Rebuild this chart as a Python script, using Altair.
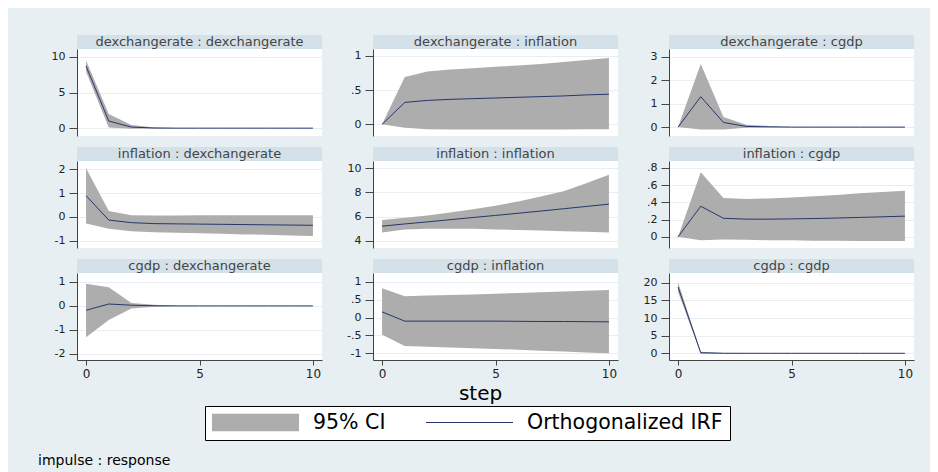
import altair as alt
import pandas as pd

steps = list(range(11))

titles = [
    "dexchangerate : dexchangerate", "dexchangerate : inflation", "dexchangerate : cgdp",
    "inflation : dexchangerate", "inflation : inflation", "inflation : cgdp",
    "cgdp : dexchangerate", "cgdp : inflation", "cgdp : cgdp",
]

# impulse dexchangerate
irf_dd = [8.7, 1.0, 0.15, 0.02, 0.0, 0.0, 0.0, 0.0, 0.0, 0.0, 0.0]
lo_dd = [7.9, 0.1, -0.1, -0.05, -0.01, 0.0, 0.0, 0.0, 0.0, 0.0, 0.0]
hi_dd = [9.5, 2.0, 0.45, 0.1, 0.02, 0.0, 0.0, 0.0, 0.0, 0.0, 0.0]

irf_di = [0.0, 0.32, 0.35, 0.365, 0.375, 0.385, 0.395, 0.405, 0.415, 0.43, 0.44]
lo_di = [0.0, -0.05, -0.07, -0.075, -0.075, -0.075, -0.075, -0.075, -0.075, -0.07, -0.07]
hi_di = [0.0, 0.69, 0.77, 0.80, 0.82, 0.84, 0.86, 0.88, 0.91, 0.94, 0.97]

irf_dc = [0.0, 1.3, 0.2, 0.03, 0.01, 0.0, 0.0, 0.0, 0.0, 0.0, 0.0]
lo_dc = [0.0, -0.1, -0.1, -0.03, -0.01, 0.0, 0.0, 0.0, 0.0, 0.0, 0.0]
hi_dc = [0.0, 2.7, 0.43, 0.1, 0.05, 0.01, 0.0, 0.0, 0.0, 0.0, 0.0]

# impulse inflation
irf_id = [0.89, -0.13, -0.24, -0.28, -0.29, -0.30, -0.31, -0.32, -0.33, -0.34, -0.35]
lo_id = [-0.28, -0.49, -0.6, -0.64, -0.66, -0.68, -0.7, -0.73, -0.75, -0.78, -0.8]
hi_id = [2.04, 0.25, 0.07, 0.06, 0.06, 0.07, 0.07, 0.07, 0.07, 0.07, 0.07]

irf_ii = [5.22, 5.4, 5.57, 5.75, 5.93, 6.1, 6.28, 6.46, 6.65, 6.84, 7.03]
lo_ii = [4.7, 4.95, 5.0, 5.0, 5.0, 4.95, 4.9, 4.85, 4.8, 4.75, 4.7]
hi_ii = [5.72, 5.9, 6.1, 6.35, 6.6, 6.9, 7.25, 7.65, 8.1, 8.75, 9.45]

irf_ic = [0.0, 0.355, 0.215, 0.205, 0.205, 0.208, 0.212, 0.218, 0.225, 0.232, 0.24]
lo_ic = [0.0, -0.04, -0.03, -0.035, -0.04, -0.04, -0.045, -0.045, -0.05, -0.05, -0.05]
hi_ic = [0.0, 0.75, 0.45, 0.44, 0.445, 0.455, 0.47, 0.485, 0.505, 0.52, 0.535]

# impulse cgdp
irf_cd = [-0.18, 0.08, 0.03, 0.005, 0.0, 0.0, 0.0, 0.0, 0.0, 0.0, 0.0]
lo_cd = [-1.3, -0.59, -0.11, -0.03, -0.005, 0.0, 0.0, 0.0, 0.0, 0.0, 0.0]
hi_cd = [0.92, 0.78, 0.12, 0.05, 0.01, 0.0, 0.0, 0.0, 0.0, 0.0, 0.0]

irf_ci = [0.16, -0.1, -0.1, -0.1, -0.1, -0.1, -0.105, -0.11, -0.11, -0.115, -0.12]
lo_ci = [-0.48, -0.8, -0.82, -0.84, -0.86, -0.88, -0.9, -0.93, -0.95, -0.98, -1.0]
hi_ci = [0.82, 0.6, 0.62, 0.63, 0.65, 0.67, 0.69, 0.71, 0.73, 0.75, 0.77]

irf_cc = [18.8, 0.15, 0.01, 0.0, 0.0, 0.0, 0.0, 0.0, 0.0, 0.0, 0.0]
lo_cc = [17.4, -0.15, -0.05, 0.0, 0.0, 0.0, 0.0, 0.0, 0.0, 0.0, 0.0]
hi_cc = [20.2, 0.45, 0.08, 0.01, 0.0, 0.0, 0.0, 0.0, 0.0, 0.0, 0.0]

irfs = [irf_dd, irf_di, irf_dc, irf_id, irf_ii, irf_ic, irf_cd, irf_ci, irf_cc]
los = [lo_dd, lo_di, lo_dc, lo_id, lo_ii, lo_ic, lo_cd, lo_ci, lo_cc]
his = [hi_dd, hi_di, hi_dc, hi_id, hi_ii, hi_ic, hi_cd, hi_ci, hi_cc]

y_domains = [
    [-1.1, 11.1], [-0.17, 1.1], [-0.38, 3.34],
    [-1.3, 2.34], [3.42, 10.58], [-0.13, 0.88],
    [-2.25, 1.37], [-1.19, 1.25], [-1.9, 22.8],
]
y_ticks = [
    [0, 5, 10], [0, 0.5, 1], [0, 1, 2, 3],
    [-1, 0, 1, 2], [4, 6, 8, 10], [0, 0.2, 0.4, 0.6, 0.8],
    [-2, -1, 0, 1], [-1, -0.5, 0, 0.5, 1], [0, 5, 10, 15, 20],
]
x_ticks = [0, 5, 10]
series_names = ["95% CI", "Orthogonalized IRF"]

BG = "#E8EFF2"
HDR = "#D5E1E8"
GRID = "#E6EEF1"
BAND = "#ADADAD"
LINE = "#26366A"
FONT = "DejaVu Sans"
W, H = 245, 87

cscale = alt.Scale(domain=series_names, range=[BAND, LINE])
sscale = alt.Scale(domain=series_names,
                   range=["M-1,-0.2H1V0.2H-1Z", "M-1,-0.012H1V0.012H-1Z"])
legend = alt.Legend(
    title=None, orient="none", legendX=128, legendY=357, direction="horizontal",
    symbolSize=7569, clipHeight=19, labelFont=FONT, labelFontSize=20.5, labelColor="black",
    labelOffset=14, columnPadding=40, padding=7, strokeColor="black", fillColor="white",
    symbolOpacity=1, symbolStrokeWidth=0, labelLimit=500,
    labelExpr="datum.value == 'Orthogonalized IRF' ? datum.label + '" + "\u00a0" * 8 + "' : datum.label",
)

label_expr = ("(datum.value < 0 ? '-' : '') + (abs(datum.value) < 1 && datum.value != 0 ? "
              "substring(toString(abs(datum.value)), 1) : toString(abs(datum.value)))")


def panel(i):
    row, col = divmod(i, 3)
    df = pd.DataFrame({"step": steps, "irf": irfs[i], "lo": los[i], "hi": his[i]})
    xscale = alt.Scale(domain=[-0.4, 10.4], nice=False, zero=False)
    if row == 2:
        xaxis = alt.Axis(values=x_ticks, title="step" if col == 1 else None, grid=False,
                         labelFontSize=12, tickSize=5, labelPadding=3, titleX=107,
                         titleFont=FONT, titleFontSize=20, titleFontWeight="normal",
                         titleColor="black", titlePadding=4)
    else:
        xaxis = None
    yscale = alt.Scale(domain=y_domains[i], nice=False, zero=False)
    yaxis = alt.Axis(values=y_ticks[i], labelExpr=label_expr, title=None, grid=True)
    x = alt.X("step:Q", scale=xscale, axis=xaxis)
    base = alt.Chart(df)
    band = base.mark_area(color=BAND, opacity=1).encode(
        x=x,
        y=alt.Y("lo:Q", scale=yscale, axis=yaxis),
        y2="hi:Q",
    )
    line = base.mark_line(color=LINE, strokeWidth=1).encode(
        x=x,
        y=alt.Y("irf:Q", scale=yscale, axis=yaxis),
    )
    hdr_df = pd.DataFrame({"t": [titles[i]]})
    hdr = alt.Chart(hdr_df).mark_rect(color=HDR).encode(
        x=alt.value(0), x2=alt.value(W), y=alt.value(-14), y2=alt.value(0))
    txt = alt.Chart(hdr_df).mark_text(font=FONT, fontSize=13, color="#444", baseline="middle").encode(
        x=alt.value(W / 2), y=alt.value(-7), text="t:N")
    layers = [band, line, hdr, txt]
    if i == 0:
        # invisible layer that only carries the shared legend
        key = base.transform_calculate(series="'95% CI'").mark_point(filled=True, opacity=0).encode(
            x=x,
            y=alt.Y("irf:Q", scale=yscale, axis=yaxis),
            color=alt.Color("series:N", scale=cscale, legend=legend),
            shape=alt.Shape("series:N", scale=sscale, legend=legend),
        )
        layers.append(key)
    if i == 6:
        note = alt.Chart(pd.DataFrame({"t": ["impulse : response"]})).mark_text(
            font=FONT, fontSize=14, color="black", align="left", baseline="middle").encode(
            x=alt.value(-39), y=alt.value(188), text="t:N")
        layers.append(note)
    return alt.layer(*layers).properties(width=W, height=H)


chart = alt.concat(
    *[panel(i) for i in range(9)],
    columns=3,
    spacing=alt.RowColnumber(row=25, column=51),
    bounds="flush",
).properties(
    padding={"left": 30, "top": 27, "right": 16, "bottom": 4},
).configure(background=BG).configure_view(stroke=None, fill="white").configure_axis(
    labelFont=FONT, labelFontSize=11, labelColor="#222", domainColor="#444",
    tickColor="#444", tickSize=8, labelPadding=4, gridColor=GRID,
)

chart.save("out.html", embed_options={"renderer": "svg", "actions": False})
